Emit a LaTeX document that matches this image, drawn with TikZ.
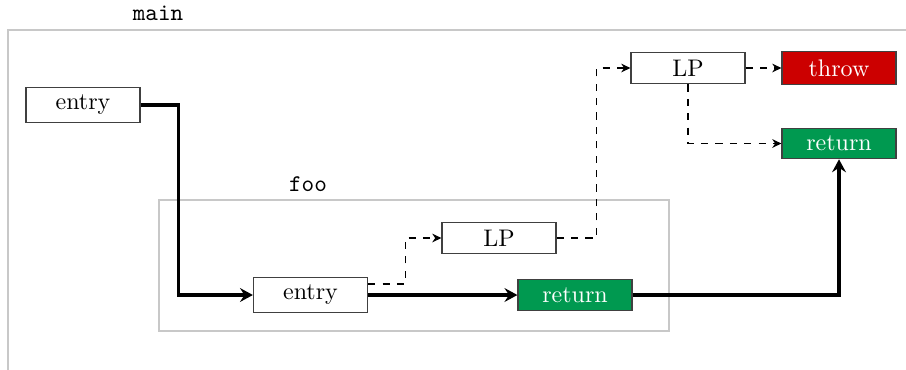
\documentclass[tikz,border=0pt]{standalone}
\usetikzlibrary{arrows.meta}
\definecolor{throwred}{RGB}{204,0,0}
\definecolor{retgreen}{RGB}{0,153,80}
\definecolor{framegray}{RGB}{200,200,200}
\begin{document}
\begin{tikzpicture}[x=0.416667pt,y=-0.416667pt,
  blk/.style={draw=black!75,line width=0.5pt,minimum width=47.5pt,inner ysep=3.2pt,fill=white},
  thrownode/.style={blk,fill=throwred,text=white},
  retnode/.style={blk,fill=retgreen,text=white},
  frame/.style={draw=framegray,line width=0.5pt},
  flow/.style={line width=1.3pt,-{Stealth[length=5.4pt,width=5.8pt,inset=1.9pt]}},
  exc/.style={dashed,line width=0.5pt,-{Stealth[length=3.8pt,width=3.6pt,inset=1.2pt]}},
  lbl/.style={font=\ttfamily}]
\useasboundingbox (0,0) rectangle (906,369);
\clip (0,0) rectangle (906,369);
% frames
\draw[frame] (8,400) -- (8,30) -- (930,30);
\node[lbl] (mainlbl) at (158,13) {main};
\draw[frame] (159,200) rectangle (669,331);
\node[lbl] (foolbl) at (308,184) {foo};
% nodes
\node[blk] (me) at (83,105) {entry};
\node[blk] (fe) at (310.5,295) {entry};
\node[blk] (fl) at (499,238) {LP};
\node[retnode] (fr) at (575,295) {return};
\node[blk] (ml) at (688,68) {LP};
\node[thrownode] (mt) at (839,68) {throw};
\node[retnode] (mr) at (839,143.5) {return};
% connectors
\draw[flow] (me.east) -- ++(38,0) |- (fe.west);
\draw[flow] (fe.east) -- (fr.west);
\draw[flow] (fr.east) -| (mr.south);
\draw[exc] ([yshift=4.6pt]fe.east) -- ++(37,0) |- (fl.west);
\draw[exc] (fl.east) -- ++(40,0) |- (ml.west);
\draw[exc] (ml.east) -- (mt.west);
\draw[exc] (ml.south) |- (mr.west);
\end{tikzpicture}
\end{document}
